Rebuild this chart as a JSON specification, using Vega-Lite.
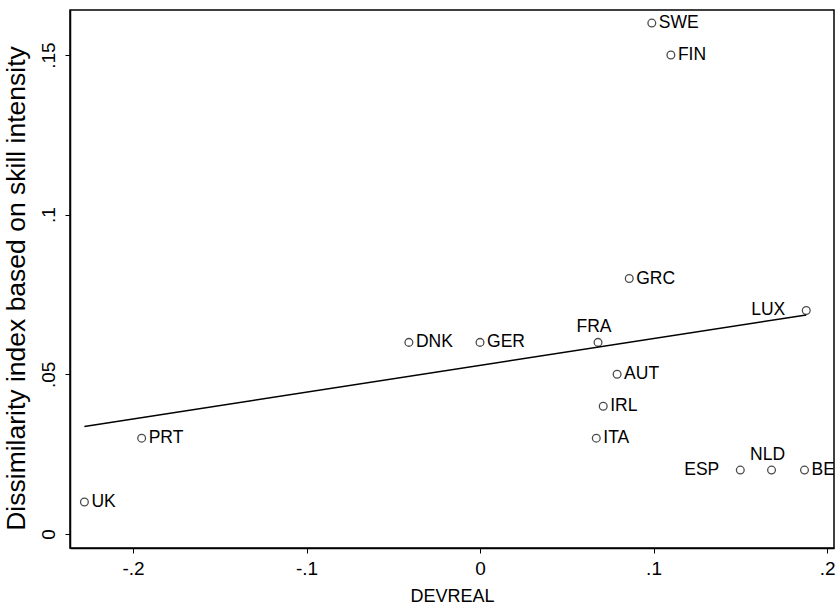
{
  "$schema": "https://vega.github.io/schema/vega-lite/v6.json",
  "width": 764,
  "height": 538,
  "autosize": {"type": "none"},
  "padding": {"left": 70, "top": 10, "right": 2, "bottom": 57},
  "background": "white",
  "config": {
    "font": "Liberation Sans",
    "view": {"stroke": "black", "strokeWidth": 1.5}
  },
  "data": {
    "values": [
      {"country": "UK", "devreal": -0.228, "dissim": 0.01},
      {"country": "PRT", "devreal": -0.195, "dissim": 0.03},
      {"country": "DNK", "devreal": -0.041, "dissim": 0.06},
      {"country": "GER", "devreal": 0.0, "dissim": 0.06},
      {"country": "FRA", "devreal": 0.068, "dissim": 0.06},
      {"country": "GRC", "devreal": 0.086, "dissim": 0.08},
      {"country": "AUT", "devreal": 0.079, "dissim": 0.05},
      {"country": "IRL", "devreal": 0.071, "dissim": 0.04},
      {"country": "ITA", "devreal": 0.067, "dissim": 0.03},
      {"country": "ESP", "devreal": 0.15, "dissim": 0.02},
      {"country": "NLD", "devreal": 0.168, "dissim": 0.02},
      {"country": "BEL", "devreal": 0.187, "dissim": 0.02},
      {"country": "LUX", "devreal": 0.188, "dissim": 0.07},
      {"country": "SWE", "devreal": 0.099, "dissim": 0.16},
      {"country": "FIN", "devreal": 0.11, "dissim": 0.15}
    ]
  },
  "encoding": {
    "x": {
      "field": "devreal",
      "type": "quantitative",
      "scale": {"domain": [-0.2363, 0.204], "nice": false, "zero": false},
      "axis": {
        "title": "DEVREAL",
        "values": [-0.2, -0.1, 0, 0.1, 0.2],
        "labelExpr": "replace(toString(datum.value), '0.', '.')",
        "grid": false,
        "domainColor": "black",
        "domainWidth": 1.5,
        "tickColor": "black",
        "tickSize": 5,
        "labelColor": "black",
        "labelFontSize": 19,
        "labelPadding": 6,
        "titleColor": "black",
        "titleFontSize": 18,
        "titleFontWeight": "normal",
        "titlePadding": 9
      }
    },
    "y": {
      "field": "dissim",
      "type": "quantitative",
      "scale": {"domain": [-0.0044, 0.1641], "nice": false, "zero": false},
      "axis": {
        "title": "Dissimilarity index based on skill intensity",
        "values": [0, 0.05, 0.1, 0.15],
        "labelExpr": "replace(toString(datum.value), '0.', '.')",
        "labelAngle": -90,
        "labelAlign": "center",
        "labelBaseline": "bottom",
        "grid": false,
        "domainColor": "black",
        "domainWidth": 1.5,
        "tickColor": "black",
        "tickSize": 5,
        "labelColor": "black",
        "labelFontSize": 19,
        "labelPadding": 7,
        "titleColor": "black",
        "titleFontSize": 26.5,
        "titleFontWeight": "normal",
        "titlePadding": 9,
        "titleY": 278
      }
    }
  },
  "layer": [
    {
      "mark": {"type": "point", "shape": "circle", "filled": false, "color": "black", "size": 60, "strokeWidth": 1.3}
    },
    {
      "transform": [{"regression": "dissim", "on": "devreal"}],
      "mark": {"type": "line", "color": "black", "strokeWidth": 1.5}
    },
    {
      "transform": [{"filter": {"not": {"field": "country", "oneOf": ["FRA", "NLD", "LUX", "ESP"]}}}],
      "mark": {"type": "text", "align": "left", "baseline": "middle", "dx": 7, "fontSize": 17.5, "color": "black", "clip": true},
      "encoding": {"text": {"field": "country"}}
    },
    {
      "transform": [{"filter": {"field": "country", "oneOf": ["LUX", "ESP"]}}],
      "mark": {"type": "text", "align": "right", "baseline": "middle", "dx": -21, "fontSize": 17.5, "color": "black"},
      "encoding": {"text": {"field": "country"}}
    },
    {
      "transform": [{"filter": {"field": "country", "oneOf": ["FRA", "NLD"]}}],
      "mark": {"type": "text", "align": "center", "baseline": "bottom", "dx": -4, "dy": -6, "fontSize": 17.5, "color": "black"},
      "encoding": {"text": {"field": "country"}}
    }
  ]
}
